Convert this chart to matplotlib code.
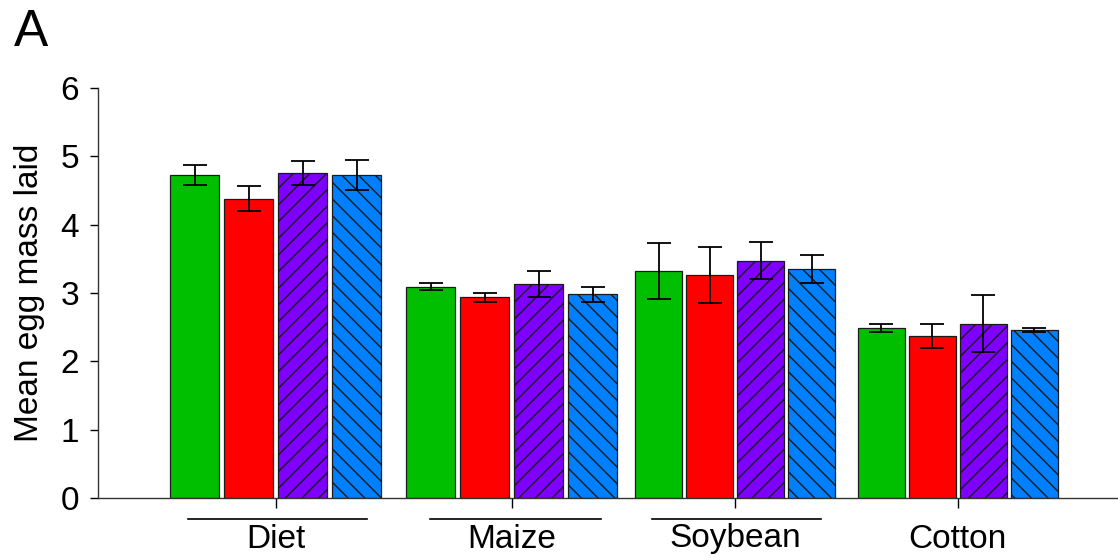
import numpy as np
import matplotlib
matplotlib.use("Agg")
import matplotlib.pyplot as plt
from matplotlib.transforms import blended_transform_factory

plt.rcParams['font.family'] = ['Liberation Sans', 'DejaVu Sans']
plt.rcParams['hatch.linewidth'] = 1.0

# Data
groups = ["Diet", "Maize", "Soybean", "Cotton"]
green_mean = [4.73, 3.09, 3.32, 2.49]
green_err = [0.15, 0.05, 0.41, 0.06]
red_mean = [4.38, 2.94, 3.27, 2.37]
red_err = [0.18, 0.065, 0.41, 0.18]
purple_mean = [4.75, 3.13, 3.47, 2.55]
purple_err = [0.175, 0.185, 0.27, 0.415]
blue_mean = [4.73, 2.98, 3.35, 2.46]
blue_err = [0.22, 0.115, 0.205, 0.03]
underlined = [True, True, True, False]

series = [
    (green_mean, green_err, "#00bf00", None),
    (red_mean, red_err, "#ff0000", None),
    (purple_mean, purple_err, "#7f00ff", "//"),
    (blue_mean, blue_err, "#0080ff", "\\\\"),
]

# Layout (horizontal axis in pixel-like units)
W, H = 1118, 560
centers = np.array([275.5, 511.5, 735.0, 957.5])
steps = np.array([54.0, 54.0, 51.0, 51.0])
widths = np.array([49.0, 49.0, 47.0, 47.0])
offsets = np.array([-1.5, -0.5, 0.5, 1.5])
line_spans = [(188, 367), (430, 601), (652, 821), None]

fig = plt.figure(figsize=(W / 100, H / 100), dpi=100)
ax = fig.add_axes([98 / W, (H - 498) / H, 1 - 98 / W, (498 - 88) / H])

for k, (mean, err, color, hatch) in enumerate(series):
    xs = centers + offsets[k] * steps
    ax.bar(xs, mean, width=widths, color=color, edgecolor="#1a1a1a",
           linewidth=0.9, hatch=hatch, zorder=2)
    ax.errorbar(xs, mean, yerr=err, fmt="none", ecolor="black",
                elinewidth=1.3, capsize=8.3, capthick=1.3, zorder=3)

ax.set_xlim(98, 1118)
ax.set_ylim(0, 6)
ax.set_yticks(range(0, 7))
ax.tick_params(axis="y", labelsize=24, length=6, width=1, direction="out", pad=7.5)
ax.set_xticks(centers)
ax.set_xticklabels([])
ax.tick_params(axis="x", length=7, width=1, direction="out")
for s in ["top", "right"]:
    ax.spines[s].set_visible(False)
for s in ["left", "bottom"]:
    ax.spines[s].set_linewidth(1.0)
    ax.spines[s].set_color("#333333")

ax.set_ylabel("Mean egg mass laid", fontsize=24, labelpad=11)

tr = blended_transform_factory(ax.transData, fig.transFigure)
for c, name, span in zip(centers, groups, line_spans):
    if span is not None:
        ax.plot(list(span), [1 - 519 / H] * 2, color="black",
                linewidth=1.2, transform=tr, clip_on=False)
    ax.text(c, 1 - 539 / H, name, transform=tr, ha="center", va="center",
            fontsize=24)

fig.text(14 / W, 1 - 33 / H, "A", fontsize=37, ha="left", va="center")

fig.savefig("out.png", dpi=100)
